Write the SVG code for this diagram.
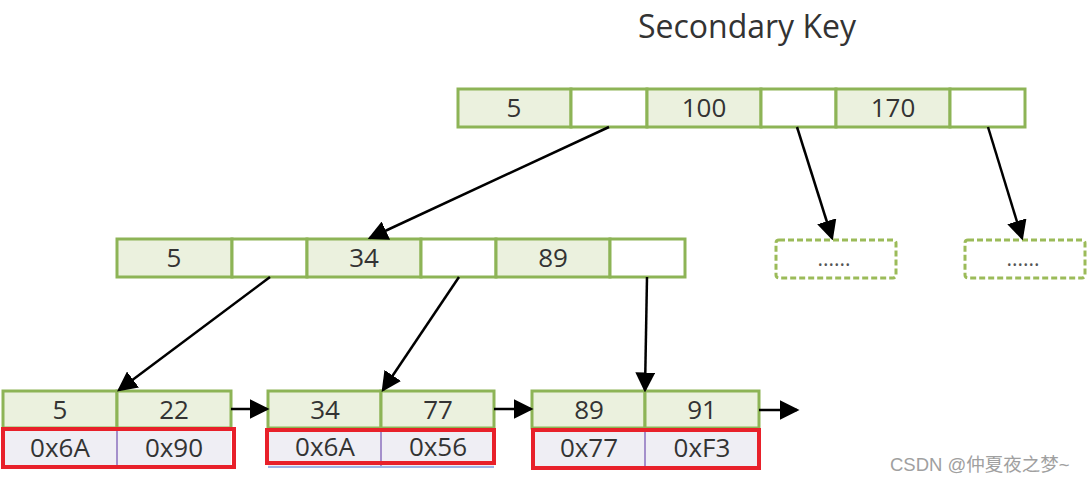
<svg xmlns="http://www.w3.org/2000/svg" width="1088" height="483" viewBox="0 0 1088 483">
<style>
.k{fill:#EBF1DE;stroke:#8DB456;stroke-width:3}
.p{fill:#FFFFFF;stroke:#8DB456;stroke-width:3}
.v{fill:#EFEEF4;stroke:none}
.vl{stroke:#A48FCB;stroke-width:2}
.red{fill:none;stroke:#E8202A;stroke-width:4}
.d{fill:#FFFFFF;stroke:#9BBB59;stroke-width:3;stroke-dasharray:6 3}
.t{font-family:"Open Sans","Noto Sans",sans-serif;font-size:26px;fill:#333333;text-anchor:middle}
.dt{font-family:"Open Sans","Noto Sans",sans-serif;font-size:21px;fill:#555555;text-anchor:middle}
.c{stroke:#000000;stroke-width:2.5;fill:none;marker-end:url(#ah)}
</style>
<defs>
<marker id="ah" markerWidth="8" markerHeight="8" refX="7" refY="4" orient="auto" markerUnits="strokeWidth" viewBox="0 0 8 8">
<path d="M0,0 L8,4 L0,8 Z" fill="#000"/>
</marker>
</defs>
<rect width="1088" height="483" fill="#FFFFFF"/>
<text x="747" y="38" font-family="'Open Sans','Noto Sans',sans-serif" font-size="32" fill="#333333" text-anchor="middle">Secondary Key</text>

<g id="root">
<rect class="k" x="458" y="89" width="113" height="38"/>
<rect class="p" x="571" y="89" width="76" height="38"/>
<rect class="k" x="647" y="89" width="114" height="38"/>
<rect class="p" x="761" y="89" width="75" height="38"/>
<rect class="k" x="836" y="89" width="114" height="38"/>
<rect class="p" x="950" y="89" width="75" height="38"/>
<text class="t" x="514" y="117">5</text>
<text class="t" x="704" y="117">100</text>
<text class="t" x="893" y="117">170</text>
</g>

<g id="mid">
<rect class="k" x="117" y="239" width="115" height="38"/>
<rect class="p" x="232" y="239" width="75" height="38"/>
<rect class="k" x="307" y="239" width="114" height="38"/>
<rect class="p" x="421" y="239" width="75" height="38"/>
<rect class="k" x="496" y="239" width="114" height="38"/>
<rect class="p" x="610" y="239" width="75" height="38"/>
<text class="t" x="174" y="267">5</text>
<text class="t" x="364" y="267">34</text>
<text class="t" x="553" y="267">89</text>
</g>

<g id="dots1">
<rect class="d" x="776" y="240" width="120" height="38" rx="3"/>
<text class="dt" x="834" y="266">......</text>
</g>
<g id="dots2">
<rect class="d" x="965" y="240" width="120" height="38" rx="3"/>
<text class="dt" x="1023" y="266">......</text>
</g>

<g id="leaf1">
<rect class="k" x="3" y="391" width="114" height="37"/>
<rect class="k" x="117" y="391" width="114" height="37"/>
<rect class="v" x="3" y="429" width="228" height="38"/>
<line class="vl" x1="117" y1="429" x2="117" y2="467"/>
<text class="t" x="60" y="419">5</text>
<text class="t" x="174" y="419">22</text>
<text class="t" x="60" y="457">0x6A</text>
<text class="t" x="174" y="457">0x90</text>
<rect class="red" x="3" y="429" width="231" height="38"/>
</g>

<g id="leaf2">
<rect class="k" x="268" y="391" width="113" height="37"/>
<rect class="k" x="381" y="391" width="113" height="37"/>
<rect class="v" x="268" y="429" width="226" height="38"/>
<line class="vl" x1="381" y1="429" x2="381" y2="467"/>
<line x1="268" y1="467" x2="494" y2="467" stroke="#9DB3E6" stroke-width="2"/>
<text class="t" x="325" y="419">34</text>
<text class="t" x="438" y="419">77</text>
<text class="t" x="325" y="456">0x6A</text>
<text class="t" x="438" y="456">0x56</text>
<rect class="red" x="267" y="430" width="227" height="33"/>
</g>

<g id="leaf3">
<rect class="k" x="532" y="391" width="113" height="37"/>
<rect class="k" x="645" y="391" width="114" height="37"/>
<rect class="v" x="532" y="429" width="227" height="38"/>
<line class="vl" x1="645" y1="429" x2="645" y2="467"/>
<text class="t" x="589" y="419">89</text>
<text class="t" x="702" y="419">91</text>
<text class="t" x="589" y="457">0x77</text>
<text class="t" x="702" y="457">0xF3</text>
<rect class="red" x="533" y="430" width="226" height="38"/>
</g>

<g id="connectors">
<line class="c" x1="609" y1="127" x2="370" y2="238"/>
<line class="c" x1="797" y1="127" x2="832" y2="238"/>
<line class="c" x1="988" y1="127" x2="1022" y2="238"/>
<line class="c" x1="270" y1="277" x2="119" y2="390"/>
<line class="c" x1="459" y1="277" x2="383" y2="390"/>
<line class="c" x1="647" y1="277" x2="645" y2="390"/>
<line class="c" x1="231" y1="409" x2="267" y2="409"/>
<line class="c" x1="494" y1="409" x2="531" y2="409"/>
<line class="c" x1="759" y1="410" x2="797" y2="410"/>
</g>

<text x="890" y="471" font-family="'Liberation Sans','Noto Sans CJK SC',sans-serif" font-size="18.5" fill="#A0A0A0">CSDN @仲夏夜之梦~</text>
</svg>
